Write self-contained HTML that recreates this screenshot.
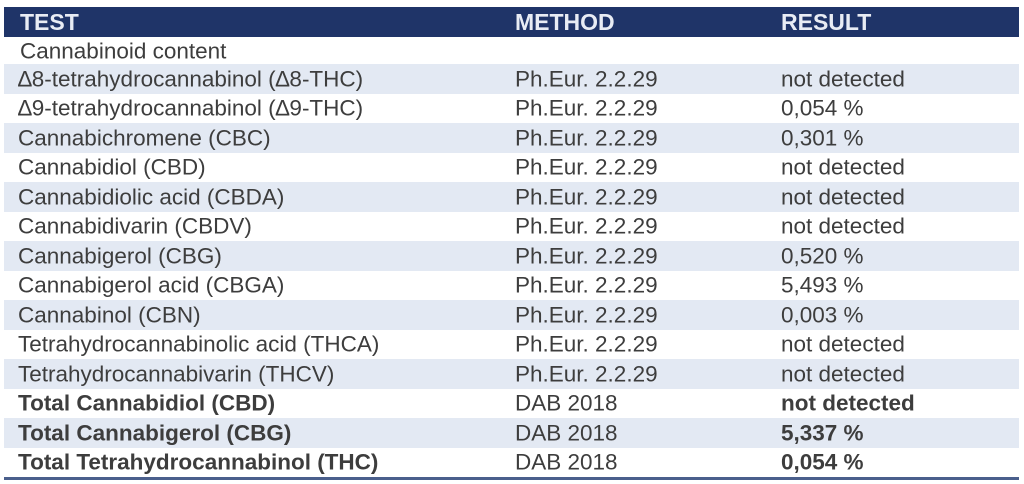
<!DOCTYPE html>
<html><head><style>
body{margin:0;width:1024px;height:484px;background:#fff;overflow:hidden;font-family:"Liberation Sans",sans-serif;}
.t{position:absolute;left:4px;top:7px;width:1015px;}
.r{position:relative;height:29.5px;color:#3d3d3d;font-size:22.5px;}
.r span{position:absolute;top:50%;transform:translateY(-48%);white-space:nowrap;}
.a{left:14px}.b{left:511px}.c{left:777px}
.h{background:#1f3468;height:30px;color:#fff;font-weight:bold;font-size:23px;}
.h span{color:#e8ecf4}
.L{background:#e3e9f3}
.B{font-weight:bold}
.bot{height:3px;background:#4a5f8c;}
</style></head><body>
<div class="t">
<div class="r h"><span class="a" style="left:16px">TEST</span><span class="b">METHOD</span><span class="c">RESULT</span></div>
<div class="r" style="height:27px"><span class="a" style="left:16px">Cannabinoid content</span></div>
<div class="r L"><span class="a">∆8-tetrahydrocannabinol (∆8-THC)</span><span class="b">Ph.Eur. 2.2.29</span><span class="c">not detected</span></div>
<div class="r"><span class="a">∆9-tetrahydrocannabinol (∆9-THC)</span><span class="b">Ph.Eur. 2.2.29</span><span class="c">0,054 %</span></div>
<div class="r L"><span class="a">Cannabichromene (CBC)</span><span class="b">Ph.Eur. 2.2.29</span><span class="c">0,301 %</span></div>
<div class="r"><span class="a">Cannabidiol (CBD)</span><span class="b">Ph.Eur. 2.2.29</span><span class="c">not detected</span></div>
<div class="r L"><span class="a">Cannabidiolic acid (CBDA)</span><span class="b">Ph.Eur. 2.2.29</span><span class="c">not detected</span></div>
<div class="r"><span class="a">Cannabidivarin (CBDV)</span><span class="b">Ph.Eur. 2.2.29</span><span class="c">not detected</span></div>
<div class="r L"><span class="a">Cannabigerol (CBG)</span><span class="b">Ph.Eur. 2.2.29</span><span class="c">0,520 %</span></div>
<div class="r"><span class="a">Cannabigerol acid (CBGA)</span><span class="b">Ph.Eur. 2.2.29</span><span class="c">5,493 %</span></div>
<div class="r L"><span class="a">Cannabinol (CBN)</span><span class="b">Ph.Eur. 2.2.29</span><span class="c">0,003 %</span></div>
<div class="r"><span class="a">Tetrahydrocannabinolic acid (THCA)</span><span class="b">Ph.Eur. 2.2.29</span><span class="c">not detected</span></div>
<div class="r L"><span class="a">Tetrahydrocannabivarin (THCV)</span><span class="b">Ph.Eur. 2.2.29</span><span class="c">not detected</span></div>
<div class="r"><span class="a B">Total Cannabidiol (CBD)</span><span class="b">DAB 2018</span><span class="c B">not detected</span></div>
<div class="r L"><span class="a B">Total Cannabigerol (CBG)</span><span class="b">DAB 2018</span><span class="c B">5,337 %</span></div>
<div class="r"><span class="a B">Total Tetrahydrocannabinol (THC)</span><span class="b">DAB 2018</span><span class="c B">0,054 %</span></div>
<div class="bot"></div>
</div>
</body></html>
